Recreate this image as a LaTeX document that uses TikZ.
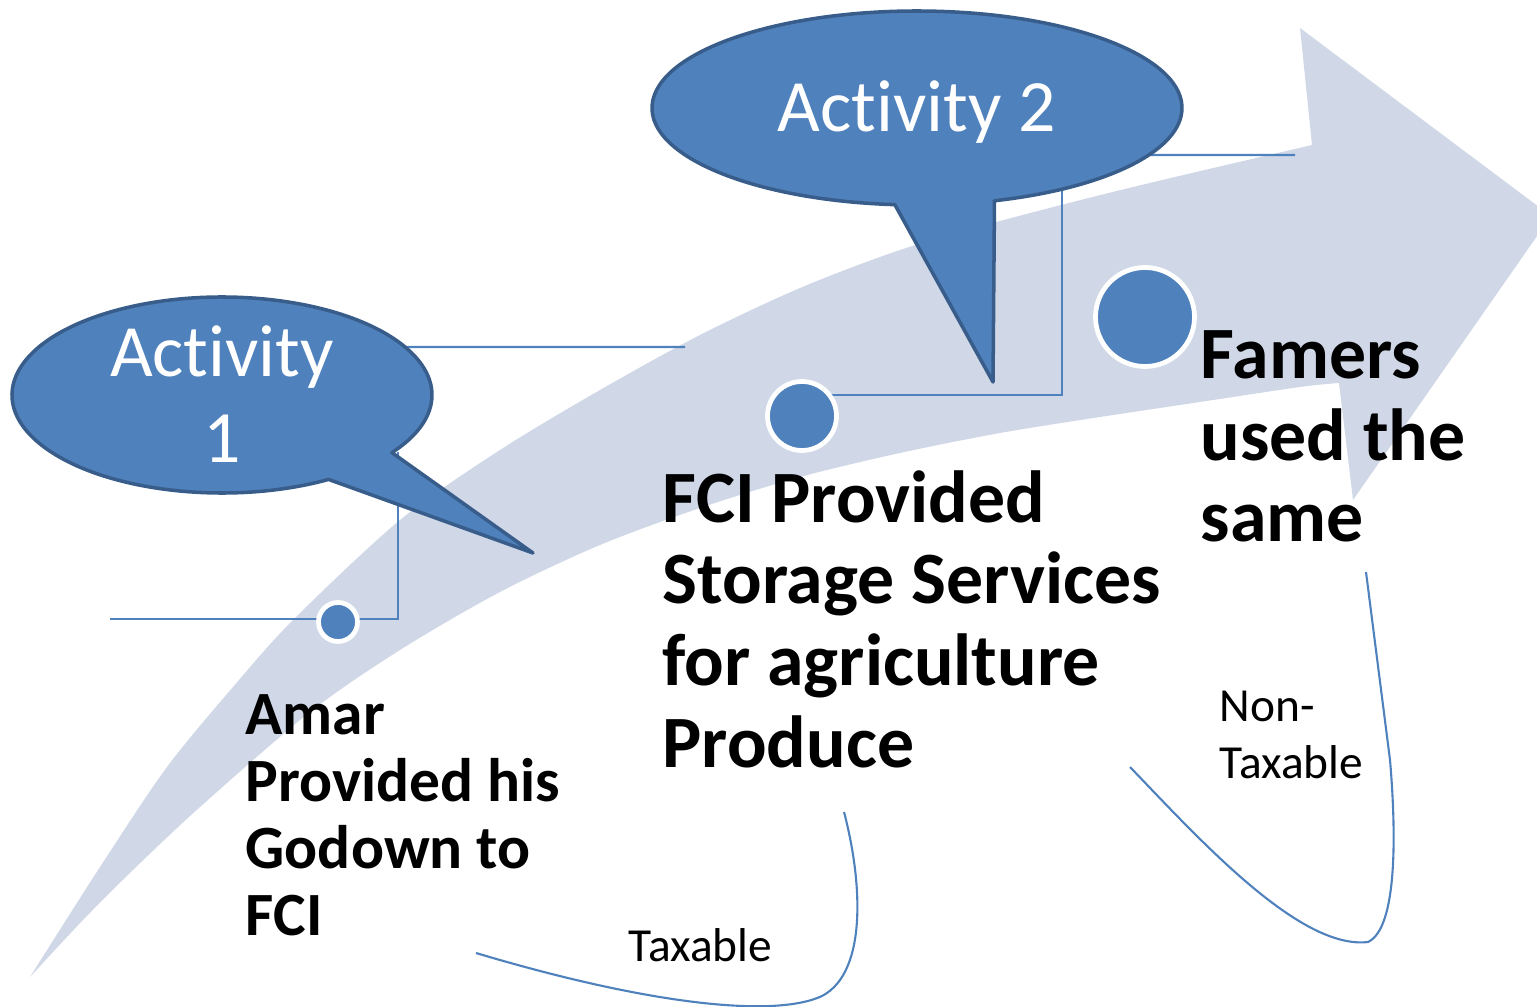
\documentclass[tikz,border=0pt]{standalone}
\usepackage{fontspec}
\setmainfont{Carlito}[Ligatures=NoCommon]
\usetikzlibrary{calc,positioning}
\definecolor{bandgray}{RGB}{208,216,232}
\definecolor{accblue}{RGB}{79,129,189}
\definecolor{accedge}{RGB}{56,93,138}

\begin{document}
\begin{tikzpicture}[x=0.1mm, y=-0.1mm,
	bubble/.style={fill=accblue, draw=accedge, line width=1pt, line join=round},
	bubbletext/.style={text=white, align=center, inner sep=0pt, anchor=base, font=\fontsize{21}{24.7}\selectfont},
	link/.style={draw=accblue, line width=0.6pt},
	dot/.style={circle, fill=accblue, draw=white, line width=1.35pt, inner sep=0pt},
	bigtext/.style={anchor=base west, align=left, inner sep=0pt, font=\bfseries\fontsize{21}{23.2}\selectfont},
	midtext/.style={anchor=base west, align=left, inner sep=0pt, font=\bfseries\fontsize{17.5}{19}\selectfont},
	smalltext/.style={anchor=base west, align=left, inner sep=0pt, font=\fontsize{13.5}{16.2}\selectfont}]
	\clip (0,0) rectangle (1537,1007);
	\fill[bandgray] plot[smooth, tension=0.5] coordinates {(30,977) (100,867) (167,767) (233,687) (293,620) (400,520) (500,450) (600,390) (700,335) (800,288) (900,250) (1000,221) (1133,187) (1312,145)}
		-- (1300,28) -- (1551,216) -- (1353,500) -- (1339,383)
		-- plot[smooth, tension=0.5] coordinates {(1339,383) (1300,387) (1200,402) (1100,417) (1000,433) (900,453) (800,477) (700,508) (600,545) (500,592) (400,650) (310,712) (200,807) (133,870) (83,920) (30,977)} -- cycle;

	\coordinate (b1) at (222,395);
	\coordinate (b2) at (917,108);
	\coordinate (b1r) at ($(b1)+(330.7:210 and 98)$);
	\coordinate (b1end) at (685,347);
	\coordinate (b2r) at ($(b2)+(29:265 and 97)$);
	\coordinate (b2end) at (1295,155);
	\coordinate (amarL) at (110,619);
	\coordinate (tailA) at (398,452);
	\coordinate (dotBr) at (830,395);
	\coordinate (b2v) at ($(b2)+(56.8:265 and 97)$);
	\draw[link] (b1r) -- (b1end);
	\draw[link] (b2r) -- (b2end);
	\draw[link] (amarL) -| (tailA);
	\draw[link] (dotBr) -| (b2v);

	\draw[bubble] ($(b1)+(59.5:210 and 98)$) arc[start angle=59.5, end angle=396, x radius=210, y radius=98] -- (533,553) -- cycle;
	\draw[bubble] ($(b2)+(94.8:265 and 97)$) arc[start angle=94.8, end angle=433, x radius=265, y radius=97] -- (993,382) -- cycle;
	\node[bubbletext] (act1) at (222,463) {Activity\\1};
	\node[bubbletext] (act2) at (917,132) {Activity 2};

	\node[dot, minimum size=3.9mm] (dotA) at (338,622) {};
	\node[dot, minimum size=6.9mm] (dotB) at (802,416) {};
	\node[dot, minimum size=9.9mm] (dotC) at (1145,317) {};

	\node[midtext] (amar) at (245,935) {Amar\\Provided his\\Godown to\\FCI};
	\node[bigtext] (fci) at (662,767) {FCI Provided\\Storage Services\\for agriculture\\Produce};
	\node[bigtext] (famers) at (1200,542) {Famers\\used the\\same};
	\node[smalltext] (tax) at (628,961) {Taxable};
	\node[smalltext] (nontax) at (1219,778) {Non-\\Taxable};

	\coordinate (taxA) at (476,953);
	\coordinate (taxB) at (844,812);
	\draw[link] (taxA) .. controls (650,1005) and (775,1018) .. (822,996) .. controls (868,972) and (862,880) .. (taxB);
	\coordinate (ntaxA) at (1130,767);
	\coordinate (ntaxB) at (1366,572);
	\draw[link] (ntaxA) .. controls (1200,840) and (1300,950) .. (1368,942) .. controls (1398,928) and (1396,830) .. (1390,760) -- (ntaxB);
\end{tikzpicture}
\end{document}
